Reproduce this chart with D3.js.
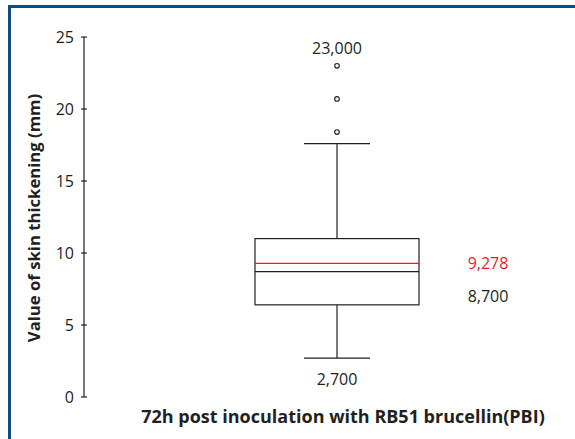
<!DOCTYPE html>
<html>
<head>
<meta charset="utf-8">
<script src="https://cdn.jsdelivr.net/npm/d3@7"></script>
<style>
  body { margin: 0; background: #fff; }
  text { font-family: "Open Sans", "Noto Sans", sans-serif; fill: #231f20; }
</style>
</head>
<body>
<svg id="chart"></svg>
<script>
const W = 575, H = 439;
const margin = {top: 37, right: 0, bottom: 42, left: 84};

// box plot summary (mm)
const boxStats = {q1: 6.4, median: 8.7, mean: 9.278, q3: 11.0, low: 2.7, high: 17.6};
const outliers = [18.4, 20.7, 23.0];
const yTicks = [0, 5, 10, 15, 20, 25];
const valueLabels = [
    {text: "23,000", value: 24.2, pos: "center", color: "#231f20"},
    {text: "9,278", value: 9.278, pos: "right", color: "#ed1c24"},
    {text: "8,700", value: 7.0, pos: "right", color: "#231f20"},
    {text: "2,700", value: 1.2, pos: "center", color: "#231f20"}
];

const svg = d3.select("#chart").attr("width", W).attr("height", H);

// frame (top and left edges only)
svg.append("path")
    .attr("d", "M9.5," + H + "V6.5H" + W)
    .attr("fill", "none")
    .attr("stroke", "#0f4c81")
    .attr("stroke-width", 3);

const y = d3.scaleLinear().domain([0, 25]).range([397, 37]);
const cx = 337, boxHalf = 82, capHalf = 33;

// y axis with ticks crossing the line
const axis = svg.append("g").attr("transform", "translate(" + margin.left + ",0)");
axis.append("line").attr("y1", y(0)).attr("y2", y(25)).attr("stroke", "#231f20").attr("stroke-width", 1.2);
axis.selectAll(".tick").data(yTicks).enter().append("line")
    .attr("x1", -3).attr("x2", 3)
    .attr("y1", d => y(d)).attr("y2", d => y(d))
    .attr("stroke", "#231f20").attr("stroke-width", 1.2);
axis.selectAll(".tlab").data(yTicks).enter().append("text")
    .attr("x", -10).attr("y", d => y(d)).attr("dy", "0.35em")
    .attr("text-anchor", "end").style("font-size", "16px")
    .text(d => d);

const g = svg.append("g").attr("stroke", "#231f20").attr("stroke-width", 1.2);

// whiskers
g.append("line").attr("x1", cx).attr("x2", cx).attr("y1", y(boxStats.q3)).attr("y2", y(boxStats.high));
g.append("line").attr("x1", cx).attr("x2", cx).attr("y1", y(boxStats.q1)).attr("y2", y(boxStats.low));
g.append("line").attr("x1", cx - capHalf).attr("x2", cx + capHalf).attr("y1", y(boxStats.high)).attr("y2", y(boxStats.high));
g.append("line").attr("x1", cx - capHalf).attr("x2", cx + capHalf).attr("y1", y(boxStats.low)).attr("y2", y(boxStats.low));

// box
g.append("rect")
    .attr("x", cx - boxHalf).attr("width", boxHalf * 2)
    .attr("y", y(boxStats.q3)).attr("height", y(boxStats.q1) - y(boxStats.q3))
    .attr("fill", "none");
g.append("line").attr("x1", cx - boxHalf).attr("x2", cx + boxHalf)
    .attr("y1", y(boxStats.median)).attr("y2", y(boxStats.median));
g.append("line").attr("x1", cx - boxHalf).attr("x2", cx + boxHalf)
    .attr("y1", y(boxStats.mean)).attr("y2", y(boxStats.mean))
    .attr("stroke", "#ed1c24");

// outliers
g.selectAll(".out").data(outliers).enter().append("circle")
    .attr("cx", cx).attr("cy", d => y(d)).attr("r", 2.3)
    .attr("fill", "#fff").attr("stroke-width", 1.1);

// value annotations
svg.selectAll(".vlab").data(valueLabels).enter().append("text")
    .attr("x", d => d.pos === "center" ? cx : 488)
    .attr("y", d => y(d.value)).attr("dy", "0.35em")
    .attr("text-anchor", "middle")
    .style("font-size", "16px")
    .style("fill", d => d.color)
    .text(d => d.text);

// axis titles
svg.append("text")
    .attr("transform", "translate(40,218) rotate(-90)")
    .attr("text-anchor", "middle")
    .style("font-size", "16.7px").style("font-weight", "bold")
    .text("Value of skin thickening (mm)");

svg.append("text")
    .attr("x", 343).attr("y", 423)
    .attr("text-anchor", "middle")
    .style("font-size", "18px").style("font-weight", "bold")
    .text("72h post inoculation with RB51 brucellin(PBI)");
</script>
</body>
</html>
